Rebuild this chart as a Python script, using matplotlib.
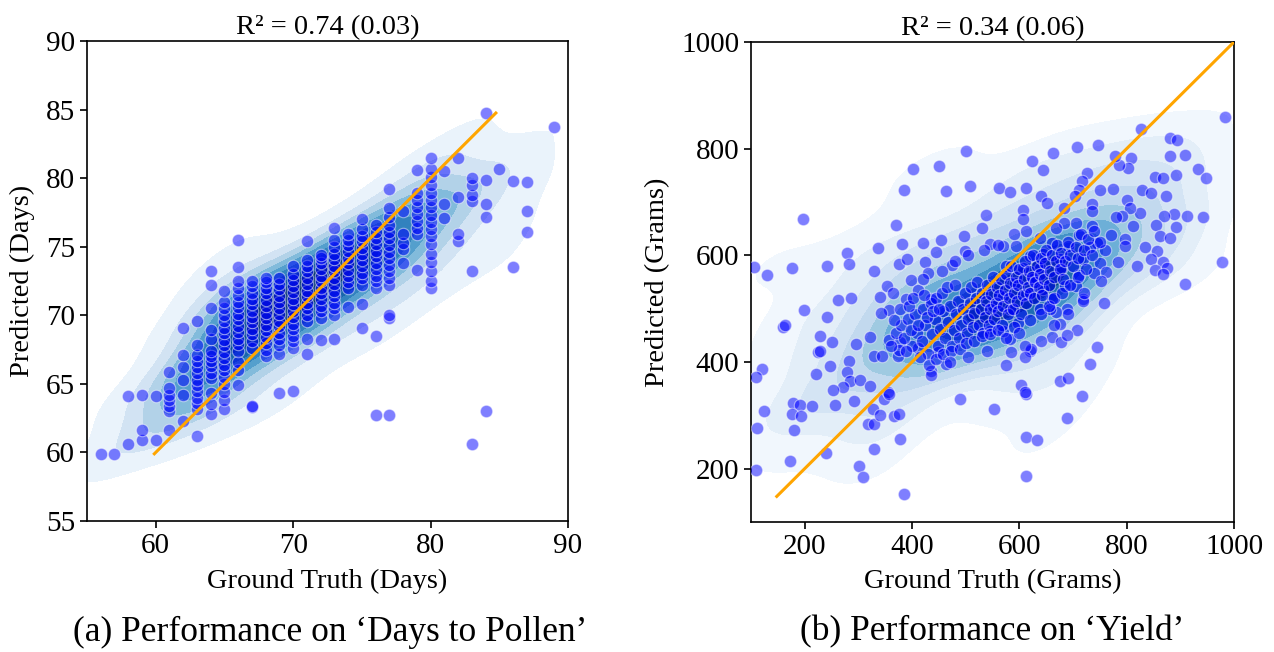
import numpy as np
import matplotlib.pyplot as plt
import seaborn as sns

plt.rcParams['font.family'] = ['Liberation Serif', 'DejaVu Serif']

# ---- panel (a): days to pollen, ground truth is whole days ----
pollen_days = [56, 57, 58, 59, 60, 61, 62, 63, 64, 65, 66, 67, 68, 69, 70, 71, 72,
               73, 74, 75, 76, 77, 78, 79, 80, 81, 82, 83, 84, 85, 86, 87, 89]
pollen_pred_by_day = [
    [59.9],
    [59.9],
    [60.6, 64.1],
    [60.9, 61.6, 64.2],
    [60.9, 64.1],
    [61.6, 63.0, 63.4, 63.8, 64.2, 64.7, 65.9],
    [62.3, 64.2, 65.3, 66.2, 67.1, 69.1],
    [61.2, 63.2, 63.6, 64.0, 64.5, 64.9, 65.3, 65.8, 66.2, 66.7, 67.1, 67.8, 69.6],
    [62.8, 63.5, 64.3, 65.4, 65.8, 66.3, 66.7, 67.0, 67.4, 68.3, 68.9, 70.5, 72.2, 73.2],
    [63.2, 63.8, 64.4, 65.0, 65.5, 66.0, 66.4, 66.9, 67.3, 67.8, 68.2, 68.7, 69.1, 69.6,
     70.0, 70.5, 71.0, 71.8],
    [64.9, 66.0, 66.6, 67.4, 67.9, 68.3, 68.8, 69.2, 69.7, 70.1, 70.6, 71.0, 71.5, 72.0,
     72.5, 73.5, 75.5],
    [63.3, 63.4, 67.6, 68.1, 68.6, 69.0, 69.5, 69.9, 70.3, 70.8, 71.2, 71.6, 72.1, 72.5],
    [67.0, 67.5, 68.0, 68.4, 68.9, 69.3, 69.8, 70.2, 70.7, 71.1, 71.6, 72.0, 72.4, 72.7],
    [64.3, 67.2, 67.8, 68.3, 68.7, 69.2, 69.6, 70.1, 70.5, 71.0, 71.4, 71.9, 72.3, 72.7],
    [64.5, 67.6, 68.1, 68.5, 69.0, 69.4, 69.9, 70.3, 70.8, 71.2, 71.7, 72.1, 72.6, 73.0, 73.6],
    [67.2, 68.3, 69.6, 70.0, 70.5, 70.9, 71.4, 71.8, 72.3, 72.7, 73.2, 73.6, 74.0, 75.4],
    [68.2, 69.8, 70.3, 70.7, 71.2, 71.6, 72.0, 72.5, 72.9, 73.4, 73.8, 74.2, 74.4],
    [68.3, 70.0, 70.5, 70.9, 71.4, 71.8, 72.3, 72.7, 73.2, 73.6, 74.1, 74.5, 75.0, 75.5, 76.4],
    [70.6, 72.0, 72.4, 72.9, 73.3, 73.8, 74.2, 74.7, 75.1, 75.5, 75.9],
    [69.1, 70.8, 72.2, 72.7, 73.1, 73.6, 74.0, 74.5, 74.9, 75.4, 75.8, 76.3, 77.0],
    [62.7, 68.5, 72.0, 72.5, 72.9, 73.4, 73.8, 74.3, 74.7, 75.2, 75.6, 76.1, 76.6],
    [62.7, 69.8, 70.0, 72.2, 72.7, 73.2, 73.7, 74.2, 74.6, 75.1, 75.6, 76.1, 76.6, 77.2,
     77.8, 79.2],
    [73.8, 74.8, 75.3, 75.9, 77.6],
    [73.3, 75.9, 76.4, 76.9, 77.4, 77.9, 78.4, 78.9, 80.6],
    [72.0, 72.5, 73.2, 73.9, 74.5, 75.2, 75.8, 76.3, 76.8, 77.3, 77.9, 78.4, 78.9, 79.5,
     80.1, 80.7, 81.5],
    [77.1, 78.1, 80.5],
    [75.4, 75.9, 78.6, 81.5],
    [60.6, 73.2, 78.3, 78.8, 79.5, 80.0],
    [63.0, 77.2, 78.1, 79.9, 84.75],
    [80.7],
    [73.5, 79.8],
    [76.1, 77.6, 79.7],
    [83.75],
]
pollen_line = [59.9, 84.75]

# ---- panel (b): yield ----
yield_outer = [
    (500, 796), (401, 761), (450, 768), (386, 722), (464, 720), (509, 730), (563, 727),
    (197, 669), (371, 657), (537, 676), (531, 652), (336, 613), (382, 622), (420, 624),
    (454, 628), (496, 636), (499, 608), (279, 604), (283, 583), (105, 578), (130, 563),
    (177, 577), (242, 580), (329, 570), (376, 583), (390, 593), (424, 588), (430, 566),
    (445, 607), (474, 582), (353, 542), (365, 529), (399, 553), (412, 535), (436, 519),
    (340, 521), (388, 519), (263, 516), (286, 520), (199, 497), (242, 484), (357, 498),
    (343, 491),
    (983, 859), (827, 837), (880, 820), (894, 817), (880, 786), (909, 789), (932, 761),
    (947, 745), (891, 750), (852, 747), (867, 745), (828, 723), (845, 716), (873, 711),
    (912, 674), (942, 672), (888, 677), (869, 674), (891, 653), (854, 657), (863, 636),
    (881, 633), (977, 588), (909, 546), (834, 615), (857, 608), (845, 593), (868, 588),
    (876, 577), (852, 573), (868, 565), (820, 580), (811, 655), (796, 631), (797, 617),
    (783, 588), (757, 510), (824, 680), (801, 703), (806, 689), (791, 674), (780, 672),
    (770, 639), (809, 783), (802, 764), (785, 770), (778, 786), (746, 806), (708, 803),
    (663, 792), (624, 776), (644, 760), (726, 755), (717, 739), (711, 723), (704, 712),
    (750, 722), (774, 725), (582, 718), (613, 727), (640, 712), (652, 699), (607, 685),
    (684, 688), (735, 697), (736, 683), (735, 655), (706, 660), (712, 638), (683, 660),
    (669, 652), (744, 624), (760, 610), (731, 616), (750, 585), (762, 569), (739, 567),
    (719, 593), (712, 563), (719, 518), (688, 500), (753, 552), (705, 543), (686, 543),
    (678, 574), (675, 594), (691, 617), (660, 624), (638, 633), (613, 646), (606, 668),
    (570, 617), (545, 622), (594, 617), (619, 599), (644, 602), (638, 577), (607, 577),
    (576, 580), (625, 555), (591, 549), (644, 536), (613, 527), (570, 524), (660, 518),
    (669, 493), (638, 499), (582, 499), (551, 505),
    (160, 465), (163, 470), (228, 449), (250, 437), (295, 434), (321, 447), (358, 441),
    (377, 437), (225, 419), (228, 421), (222, 378), (247, 393), (283, 402), (279, 381),
    (284, 365), (271, 353), (253, 348), (303, 367), (322, 355), (292, 327), (257, 320),
    (330, 412), (345, 411), (374, 412), (375, 423), (120, 386), (109, 371), (125, 309),
    (111, 277), (109, 197), (178, 323), (192, 320), (214, 317), (177, 302), (194, 299),
    (180, 273), (172, 215), (239, 230), (301, 205), (308, 185), (386, 152), (329, 237),
    (377, 255), (318, 284), (330, 284), (327, 312), (340, 301), (366, 299), (376, 303),
    (347, 331), (355, 343), (358, 340), (490, 330), (552, 312), (436, 384), (436, 376),
    (463, 396), (449, 419), (412, 426),
    (719, 515), (708, 460), (745, 429), (732, 396), (675, 365), (690, 370), (716, 336),
    (688, 295), (604, 356), (613, 340), (611, 343), (613, 259), (632, 253), (613, 186),
    (660, 446), (678, 437), (688, 451), (675, 471), (585, 418), (619, 421), (621, 424),
    (610, 430), (582, 443), (570, 458), (545, 458), (598, 474), (657, 499),
]
yield_core = [
    (400, 430), (410, 455), (418, 440), (425, 470), (430, 415), (438, 452), (442, 480),
    (448, 430), (452, 462), (458, 495), (462, 445), (468, 475), (470, 505), (475, 430),
    (478, 460), (482, 490), (485, 515), (488, 445), (492, 470), (495, 500), (498, 530),
    (502, 455), (505, 480), (508, 510), (510, 540), (514, 465), (516, 492), (520, 520),
    (522, 550), (525, 470), (528, 500), (530, 530), (533, 455), (536, 485), (538, 515),
    (540, 545), (543, 470), (546, 500), (548, 528), (550, 560), (553, 480), (556, 510),
    (558, 540), (560, 495), (563, 525), (565, 555), (568, 470), (570, 505), (573, 535),
    (575, 565), (578, 490), (580, 520), (583, 548), (585, 580), (588, 500), (590, 530),
    (593, 560), (596, 515), (598, 545), (600, 575), (603, 490), (606, 525), (608, 555),
    (610, 590), (613, 510), (616, 540), (618, 570), (620, 530), (623, 560), (626, 600),
    (628, 520), (630, 550), (633, 580), (636, 540), (638, 565), (640, 595), (643, 525),
    (646, 555), (648, 585), (650, 610), (655, 545), (658, 570), (660, 600), (665, 560),
    (668, 590), (670, 620), (675, 575), (678, 605), (682, 555), (685, 590), (690, 625),
    (695, 600), (700, 580), (705, 615), (710, 595), (715, 640), (720, 610), (728, 630),
    (735, 600), (740, 645), (750, 625),
    (370, 455), (380, 470), (385, 445), (392, 480), (398, 460), (405, 490), (412, 470),
    (420, 500), (428, 485), (435, 510), (440, 495), (445, 520), (450, 500), (455, 530),
    (360, 430), (366, 478), (378, 500), (388, 420), (395, 505), (402, 520), (415, 410),
    (422, 525), (432, 395), (445, 405), (458, 415), (465, 540), (472, 420), (480, 545),
    (490, 425), (500, 435), (515, 440), (530, 448), (545, 452), (560, 460), (575, 445),
    (590, 465), (600, 455), (620, 478), (640, 490), (655, 505), (665, 520), (680, 530),
    (695, 545), (710, 560), (725, 575),
    (420, 555), (455, 570), (480, 590), (505, 600), (535, 610), (560, 620), (590, 640),
    (470, 400), (505, 410), (540, 420), (575, 395), (610, 410), (640, 440), (665, 470),
    (690, 490), (720, 530),
]
yield_line = [148, 1000]

pollen_true = np.concatenate([[d] * len(p) for d, p in zip(pollen_days, pollen_pred_by_day)])
pollen_pred = np.concatenate(pollen_pred_by_day)
yield_pts = np.array(yield_outer + yield_core, dtype=float)
yield_true, yield_pred = yield_pts[:, 0], yield_pts[:, 1]

fig = plt.figure(figsize=(12.74, 6.52), dpi=100)
W, H = 1274, 652
ax1 = fig.add_axes([87 / W, 1 - 521 / H, 481 / W, 480 / H])
ax2 = fig.add_axes([751 / W, 1 - 522 / H, 483 / W, 480 / H])

panels = [
    (ax1, pollen_true, pollen_pred, pollen_line, 'R² = 0.74 (0.03)',
     'Ground Truth (Days)', 'Predicted (Days)', (55, 90), (55, 90),
     [60, 70, 80, 90], [55, 60, 65, 70, 75, 80, 85, 90]),
    (ax2, yield_true, yield_pred, yield_line, 'R² = 0.34 (0.06)',
     'Ground Truth (Grams)', 'Predicted (Grams)', (100, 1000), (100, 1000),
     [200, 400, 600, 800, 1000], [200, 400, 600, 800, 1000]),
]

for ax, gt, pr, line, title, xl, yl, xlim, ylim, xt, yt in panels:
    sns.kdeplot(x=gt, y=pr, fill=True, cmap='Blues', ax=ax)
    ax.scatter(gt, pr, s=80, c='blue', alpha=0.5, edgecolors='white', linewidths=0.8, zorder=3)
    ax.plot(line, line, color='orange', linewidth=2.2, zorder=4)
    ax.set_xlim(*xlim)
    ax.set_ylim(*ylim)
    ax.set_xticks(xt)
    ax.set_yticks(yt)
    ax.tick_params(labelsize=21, length=5, width=1.2)
    for s in ax.spines.values():
        s.set_linewidth(1.2)
    ax.set_title(title, fontsize=20.5, pad=5)
    ax.set_xlabel(xl, fontsize=20.5, labelpad=7)
    ax.set_ylabel(yl, fontsize=20.5, labelpad=8)

fig.text(330 / W, 1 - 632 / H, '(a) Performance on \u2018Days to Pollen\u2019',
         ha='center', va='center', fontsize=25.5)
fig.text(992 / W, 1 - 632 / H, '(b) Performance on \u2018Yield\u2019',
         ha='center', va='center', fontsize=25.5)

fig.savefig('out.png', dpi=100)
